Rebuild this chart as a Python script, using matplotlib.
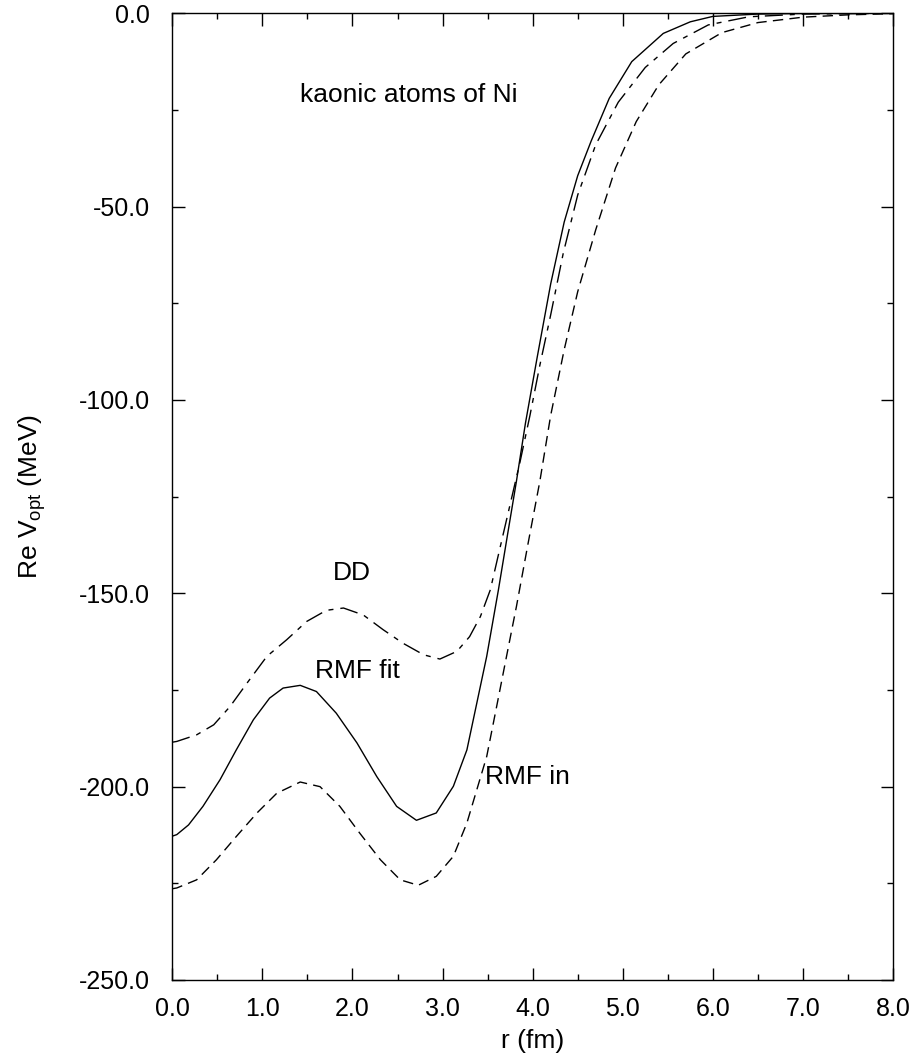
import matplotlib
matplotlib.use("Agg")
import matplotlib.pyplot as plt
from matplotlib.ticker import MultipleLocator, FormatStrFormatter

plt.rcParams["font.family"] = ["Liberation Sans", "DejaVu Sans"]
plt.rcParams["mathtext.fontset"] = "custom"
plt.rcParams["mathtext.rm"] = "Liberation Sans"

# RMF fit (solid)
r_fit = [0.0, 0.05, 0.18, 0.34, 0.53, 0.71, 0.9, 1.08, 1.23, 1.42, 1.6,
         1.82, 2.05, 2.27, 2.49, 2.71, 2.93, 3.12, 3.27, 3.38, 3.49, 3.62,
         3.72, 3.82, 3.92, 4.05, 4.2, 4.35, 4.5, 4.65, 4.85, 5.1, 5.45,
         5.75, 6.0, 6.5, 7.0, 8.0]
v_fit = [-212.8, -212.4, -209.9, -205.1, -198.2, -190.5, -182.7, -177.1,
         -174.5, -173.8, -175.4, -181.0, -188.7, -197.4, -205.1, -208.7,
         -206.8, -199.9, -190.5, -178.4, -166.3, -149.1, -135.0, -121.0,
         -106.0, -89.0, -70.0, -54.0, -42.0, -33.0, -22.0, -12.5, -5.2,
         -2.2, -0.8, -0.2, -0.05, 0.0]

# DD (dash-dot)
r_dd = [0.0, 0.05, 0.27, 0.46, 0.64, 0.83, 1.05, 1.27, 1.49, 1.71, 1.9,
        2.12, 2.34, 2.56, 2.79, 2.97, 3.16, 3.3, 3.42, 3.53, 3.64, 3.75,
        3.86, 3.97, 4.08, 4.2, 4.34, 4.5, 4.7, 4.95, 5.25, 5.56, 5.95,
        6.4, 7.0, 8.0]
v_dd = [-188.5, -188.3, -186.6, -184.0, -179.3, -173.2, -166.3, -162.0,
        -157.3, -154.4, -153.8, -155.6, -159.4, -162.9, -165.9, -167.0,
        -165.0, -161.2, -156.0, -149.1, -138.0, -127.0, -116.0, -104.0,
        -91.0, -78.0, -62.0, -47.0, -34.0, -23.0, -14.0, -7.8, -3.0,
        -0.9, -0.2, 0.0]

# RMF in (dashed)
r_in = [0.0, 0.05, 0.27, 0.49, 0.71, 0.94, 1.16, 1.42, 1.64, 1.86, 2.08,
        2.31, 2.53, 2.73, 2.93, 3.12, 3.27, 3.38, 3.49, 3.6, 3.71, 3.82,
        3.95, 4.08, 4.2, 4.35, 4.5, 4.7, 4.92, 5.15, 5.4, 5.7, 6.1, 6.5,
        7.0, 7.5, 8.0]
v_in = [-226.4, -226.2, -224.1, -218.9, -212.9, -206.8, -201.7, -198.8,
        -200.0, -205.1, -212.0, -218.9, -224.1, -225.5, -223.2, -218.0,
        -209.4, -200.8, -192.2, -179.3, -166.3, -153.4, -137.0, -121.0,
        -104.0, -87.0, -72.0, -56.0, -40.0, -28.0, -18.5, -10.5, -5.0,
        -2.4, -1.0, -0.4, -0.1]

fig = plt.figure(figsize=(9.16, 10.59), dpi=100)
ax = fig.add_axes([0.1881, 0.0746, 0.9749 - 0.1881, 0.98744 - 0.0746])

ax.plot(r_fit, v_fit, color="black", lw=1.0)
l_dd, = ax.plot(r_dd, v_dd, color="black", lw=1.0)
l_dd.set_dashes([13, 5, 3.6, 5])
l_in, = ax.plot(r_in, v_in, color="black", lw=1.0)
l_in.set_dashes([7.5, 4.5])

ax.set_xlim(0, 8)
ax.set_ylim(-250, 0)
ax.xaxis.set_major_locator(MultipleLocator(1.0))
ax.xaxis.set_minor_locator(MultipleLocator(0.5))
ax.yaxis.set_major_locator(MultipleLocator(50))
ax.yaxis.set_minor_locator(MultipleLocator(25))
ax.xaxis.set_major_formatter(FormatStrFormatter("%.1f"))
ax.yaxis.set_major_formatter(FormatStrFormatter("%.1f"))
ax.tick_params(which="both", direction="in", top=True, right=True,
               width=1.0, labelsize=18)
ax.tick_params(which="major", length=9, pad=12)
ax.tick_params(which="minor", length=4.5)
ax.tick_params(axis="y", which="major", pad=16)
for s in ax.spines.values():
    s.set_linewidth(1.0)

ax.set_xlabel("r (fm)", fontsize=19, labelpad=6)
ax.set_ylabel(r"Re V$_{\mathregular{opt}}$ (MeV)", fontsize=19, labelpad=22)

ax.text(1.42, -23, "kaonic atoms of Ni", fontsize=19, ha="left", va="baseline")
ax.text(1.99, -144.7, "DD", fontsize=19, ha="center", va="center")
ax.text(2.05, -170, "RMF fit", fontsize=19, ha="center", va="center")
ax.text(3.47, -197.4, "RMF in", fontsize=19, ha="left", va="center")

fig.savefig("out.png", dpi=100, facecolor="white")
